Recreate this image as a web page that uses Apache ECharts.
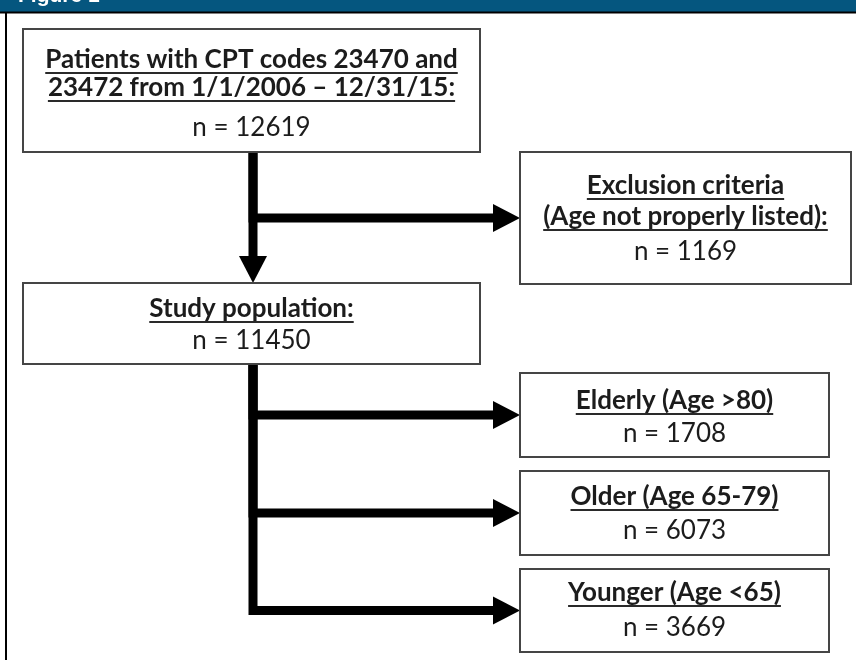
<!DOCTYPE html>
<html>
<head>
<meta charset="utf-8">
<title>Figure 1</title>
<script src="https://cdn.jsdelivr.net/npm/echarts@6/dist/echarts.min.js"></script>
<style>
    html, body { margin: 0; padding: 0; background: #fff; }
    #chart { width: 856px; height: 660px; }
</style>
</head>
<body>
<div id="chart"></div>
<script>
/*data*/
const nodeTitles = [
    ['Patients with CPT codes 23470 and', '23472 from 1/1/2006 \u2013 12/31/15:'],
    ['Exclusion criteria', '(Age not properly listed):'],
    ['Study population:'],
    ['Elderly (Age >80)'],
    ['Older (Age 65-79)'],
    ['Younger (Age <65)']
];
const nodeCounts = [12619, 1169, 11450, 1708, 6073, 3669];
// [from node, to node]
const links = [[0, 2], [0, 1], [2, 3], [2, 4], [2, 5]];

/*layout*/
const boxRects = [
    [23, 29, 480, 152],
    [520, 152, 851, 284],
    [23, 283, 480, 364],
    [520, 373, 829, 457],
    [520, 471, 829, 555],
    [520, 569, 829, 652]
];
// vertical centre of each text row in a box (titles first, count last)
const textRows = [
    [60, 88, 128],
    [186, 217, 252],
    [309, 341],
    [401, 434],
    [497, 531],
    [593, 628]
];
const trunkX = 253;
const shaftWidth = 9;
const headLen = 27;
const headHalf = 14;
const titleFont = 'bold 26px Lato';
const countFont = '26px Lato';
const textColor = '#1c1c1c';

const measureCtx = document.createElement('canvas').getContext('2d');
function textWidth(str, font) {
    measureCtx.font = font;
    return measureCtx.measureText(str).width;
}

function renderBox(params, api) {
    const i = api.value(0);
    const b = boxRects[i];
    const p0 = api.coord([b[0], b[1]]);
    const p1 = api.coord([b[2], b[3]]);
    const cx = (p0[0] + p1[0]) / 2;
    const rows = textRows[i];
    const children = [{
        type: 'rect',
        shape: { x: p0[0], y: p0[1], width: p1[0] - p0[0], height: p1[1] - p0[1] },
        style: { fill: '#fff', stroke: '#454545', lineWidth: 2 }
    }];

    nodeTitles[i].forEach(function (line, k) {
        const y = api.coord([0, rows[k]])[1];
        const w = textWidth(line, titleFont);
        children.push({
            type: 'text',
            style: { text: line, x: cx, y: y, font: titleFont, fill: textColor, align: 'center', verticalAlign: 'middle' }
        });
        // underline
        children.push({
            type: 'line',
            shape: { x1: cx - w / 2, y1: y + 13, x2: cx + w / 2, y2: y + 13 },
            style: { stroke: '#2a2a2a', lineWidth: 2 }
        });
    });

    const ny = api.coord([0, rows[rows.length - 1]])[1];
    children.push({
        type: 'text',
        style: { text: 'n = ' + nodeCounts[i], x: cx, y: ny, font: countFont, fill: textColor, align: 'center', verticalAlign: 'middle' }
    });

    return { type: 'group', children: children };
}

function renderLink(params, api) {
    const link = links[api.value(0)];
    const s = boxRects[link[0]];
    const t = boxRects[link[1]];
    let pts;
    let dir;

    if (t[0] >= s[2]) {
        // target on the right: leave the trunk at the target's middle
        const y = (t[1] + t[3]) / 2;
        pts = [[trunkX, s[3]], [trunkX, y], [t[0], y]];
        dir = [1, 0];
    } else {
        pts = [[trunkX, s[3]], [trunkX, t[1]]];
        dir = [0, 1];
    }

    pts = pts.map(function (p) { return api.coord(p); });
    const tip = pts[pts.length - 1];
    const base = [tip[0] - dir[0] * headLen, tip[1] - dir[1] * headLen];
    const shaft = pts.slice(0, -1).concat([[base[0] + dir[0], base[1] + dir[1]]]);
    const nx = -dir[1], ny = dir[0];

    return {
        type: 'group',
        children: [{
            type: 'polyline',
            shape: { points: shaft },
            style: { stroke: '#000', lineWidth: shaftWidth, fill: null, lineJoin: 'miter', lineCap: 'butt' }
        }, {
            type: 'polygon',
            shape: {
                points: [
                    tip,
                    [base[0] + nx * headHalf, base[1] + ny * headHalf],
                    [base[0] - nx * headHalf, base[1] - ny * headHalf]
                ]
            },
            style: { fill: '#000' }
        }]
    };
}

const chart = echarts.init(document.getElementById('chart'), null, { renderer: 'canvas' });

chart.setOption({
    animation: false,
    backgroundColor: '#fff',
    grid: { left: 0, right: 0, top: 0, bottom: 0 },
    xAxis: { type: 'value', min: 0, max: 856, show: false },
    yAxis: { type: 'value', min: 0, max: 660, inverse: true, show: false },
    graphic: [
        { type: 'rect', shape: { x: 0, y: 0, width: 856, height: 12 }, style: { fill: '#05567f' } },
        {
            type: 'text', x: 18, y: -4,
            style: { text: 'Figure 1', font: 'bold 21px "Liberation Sans"', fill: '#fff', textVerticalAlign: 'middle', verticalAlign: 'middle' }
        },
        { type: 'line', shape: { x1: 0, y1: 12.5, x2: 856, y2: 12.5 }, style: { stroke: '#000', lineWidth: 2 } },
        { type: 'line', shape: { x1: 6, y1: 12, x2: 6, y2: 660 }, style: { stroke: '#000', lineWidth: 2 } }
    ],
    series: [{
        type: 'custom',
        name: 'links',
        clip: false,
        silent: true,
        data: links.map(function (l, i) { return [i]; }),
        encode: { x: -1, y: -1 },
        renderItem: renderLink
    }, {
        type: 'custom',
        name: 'boxes',
        clip: false,
        silent: true,
        data: nodeCounts.map(function (v, i) { return [i]; }),
        encode: { x: -1, y: -1 },
        renderItem: renderBox
    }]
});

window.addEventListener('resize', function () { chart.resize(); });
</script>
</body>
</html>
